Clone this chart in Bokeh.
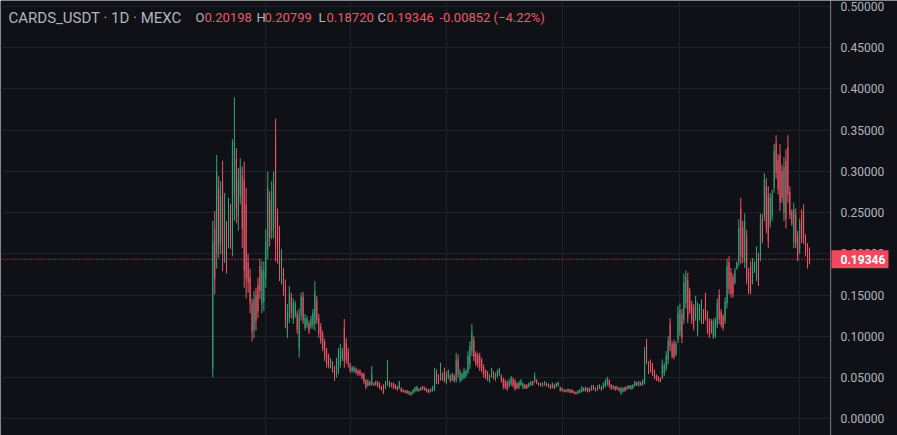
from bokeh.plotting import figure
from bokeh.layouts import row
from bokeh.models import ColumnDataSource, FixedTicker, Range1d, Span, Label
from bokeh.core.properties import value
from bokeh.embed import file_html
from bokeh.resources import INLINE

# ---------------- data ----------------
opens = [
    .060, .230, .200, .280, .215, .290, .200, .230, .215, .250,
    .215, .270, .315, .245, .270, .295, .290, .260, .190, .172,
    .140, .108, .150, .162, .185, .140, .142, .170, .205, .265,
    .228, .230,
    .340, .245, .225, .170, .178, .160, .105, .122, .148, .120,
    .125, .127, .085, .125, .148, .110, .113, .116, .111, .113,
    .115, .144, .122, .112, .103, .093, .082, .076, .063, .068,
    .061, .053, .058, .066, .073, .110, .092, .082,
    .066, .058, .058, .060, .058, .058, .055, .054, .046, .040,
    .045, .042, .041, .045, .045, .043, .039, .040, .037, .043,
    .045, .039, .043, .041, .039, .037, .037, .035, .034, .031,
    .033, .029, .031, .033, .034, .036, .035, .039, .038, .036,
    .035, .033, .034, .036, .056, .052, .048, .054, .058, .045,
    .050,
    .052, .047, .052, .047, .072, .046, .048, .050, .052, .057,
    .066, .082, .095, .079, .077, .076, .071, .063, .058, .056,
    .046, .052, .056, .048, .052, .054, .052, .048, .046, .044,
    .040, .042, .048, .046, .043, .038, .041, .038, .041, .041,
    .039, .041, .045, .045, .047, .043, .040, .043, .041, .043,
    .042, .041, .038, .041, .039, .040,
    .038, .034, .035, .035, .033, .035, .035, .033, .032, .031,
    .032, .033, .037, .034, .037, .037, .035, .040, .037, .035,
    .037, .039, .037, .040, .042, .047, .041, .037, .039, .039,
    .037, .031, .033, .038, .036, .040, .036, .037, .040, .044,
    .040, .044, .041, .044, .090, .068, .069, .065, .058, .053,
    .051, .049, .050, .055, .061, .072,
    .115, .090, .092, .078, .096, .106, .127, .120, .140, .168,
    .155, .139, .135, .122, .106, .121, .118, .130, .148, .127,
    .119, .118, .100, .101, .114, .150, .130, .124, .119, .140,
    .190, .178, .172, .165, .182, .190, .255, .232, .190, .220,
    .178, .185, .166, .179, .172, .195, .197, .243, .246, .282,
    .272, .237, .245, .280, .335, .314, .320, .300, .250, .312,
    .330, .275, .251, .214, .248, .222, .206, .248, .252, .220,
    .209, .20198,
]
highs = [
    .240, .252, .320, .294, .288, .313, .274, .240, .268, .261,
    .339, .390, .328, .304, .316, .306, .312, .280, .200, .182,
    .146, .155, .159, .171, .194, .191, .191, .230, .300, .276,
    .288, .300,
    .364, .255, .234, .206, .183, .169, .139, .161, .153, .146,
    .143, .131, .134, .153, .154, .127, .125, .119, .125, .133,
    .167, .149, .127, .116, .107, .097, .086, .079, .074, .070,
    .064, .074, .086, .091, .086, .121, .098, .086,
    .068, .064, .064, .062, .060, .060, .056, .056, .048, .048,
    .046, .064, .044, .046, .046, .044, .040, .042, .046, .071,
    .046, .044, .044, .042, .040, .046, .038, .036, .035, .035,
    .034, .033, .036, .039, .040, .037, .039, .040, .039, .037,
    .036, .037, .040, .062, .060, .054, .068, .056, .062, .058,
    .060,
    .054, .056, .054, .080, .078, .060, .056, .062, .060, .082,
    .094, .115, .100, .082, .080, .080, .074, .066, .060, .058,
    .054, .062, .058, .056, .060, .062, .054, .050, .048, .046,
    .048, .052, .050, .048, .044, .046, .048, .044, .042, .042,
    .044, .046, .046, .056, .048, .044, .044, .044, .046, .044,
    .043, .042, .044, .042, .044, .045,
    .039, .038, .036, .036, .037, .036, .036, .034, .033, .035,
    .036, .040, .038, .039, .038, .038, .041, .041, .038, .041,
    .042, .040, .044, .048, .051, .048, .042, .041, .040, .040,
    .038, .039, .038, .039, .040, .041, .041, .042, .046, .045,
    .046, .045, .048, .087, .097, .070, .072, .068, .060, .054,
    .052, .050, .072, .068, .082, .100,
    .122, .094, .096, .094, .137, .140, .133, .176, .180, .177,
    .159, .143, .139, .149, .141, .139, .145, .133, .153, .131,
    .122, .121, .121, .123, .146, .157, .133, .127, .147, .194,
    .197, .183, .176, .183, .191, .242, .268, .240, .249, .229,
    .183, .191, .195, .191, .209, .201, .249, .248, .298, .292,
    .282, .274, .278, .333, .344, .321, .333, .308, .317, .327,
    .344, .282, .254, .262, .255, .228, .243, .254, .260, .224,
    .213, .20799,
]
lows = [
    .050, .151, .182, .195, .200, .179, .189, .176, .207, .206,
    .197, .240, .237, .228, .260, .207, .159, .146, .153, .128,
    .094, .098, .107, .122, .145, .128, .131, .159, .194, .209,
    .218, .219,
    .191, .188, .167, .163, .149, .110, .098, .116, .122, .115,
    .122, .103, .074, .119, .115, .107, .110, .103, .109, .109,
    .107, .115, .098, .091, .082, .070, .062, .061, .061, .056,
    .046, .050, .054, .062, .070, .062, .067, .062,
    .056, .056, .056, .054, .052, .052, .048, .042, .036, .039,
    .040, .040, .040, .040, .038, .036, .034, .030, .036, .040,
    .038, .038, .036, .036, .034, .036, .032, .032, .031, .030,
    .029, .028, .030, .032, .033, .033, .034, .035, .034, .032,
    .031, .032, .033, .034, .042, .042, .046, .046, .044, .042,
    .048,
    .044, .046, .044, .044, .050, .044, .046, .048, .050, .054,
    .060, .076, .070, .064, .062, .058, .056, .050, .048, .046,
    .044, .050, .048, .046, .050, .052, .044, .036, .036, .034,
    .038, .040, .038, .034, .036, .036, .040, .036, .036, .036,
    .038, .040, .040, .044, .042, .040, .039, .039, .040, .039,
    .038, .036, .037, .036, .038, .039,
    .033, .033, .032, .032, .032, .031, .031, .030, .029, .030,
    .031, .032, .033, .033, .032, .032, .034, .035, .033, .034,
    .036, .034, .036, .038, .040, .038, .035, .036, .034, .035,
    .033, .029, .032, .033, .035, .036, .035, .036, .039, .040,
    .039, .040, .040, .042, .066, .054, .056, .052, .048, .046,
    .045, .044, .048, .052, .058, .066,
    .082, .073, .072, .076, .092, .100, .092, .115, .134, .116,
    .127, .115, .107, .119, .100, .119, .115, .115, .119, .103,
    .098, .103, .097, .098, .110, .115, .111, .107, .115, .134,
    .151, .147, .147, .163, .181, .185, .188, .189, .183, .163,
    .151, .151, .163, .177, .167, .161, .191, .213, .240, .225,
    .207, .232, .240, .274, .291, .272, .252, .262, .240, .231,
    .262, .242, .234, .207, .207, .191, .200, .213, .212, .197,
    .182, .18720,
]
closes = [
    .215, .170, .300, .210, .270, .200, .255, .190, .255, .215,
    .315, .335, .255, .290, .305, .230, .180, .170, .165, .140,
    .105, .145, .118, .130, .155, .180, .180, .215, .280, .220,
    .275, .285,
    .210, .200, .180, .195, .155, .120, .130, .152, .128, .140,
    .138, .108, .125, .148, .120, .122, .121, .106, .121, .128,
    .155, .120, .103, .095, .086, .075, .066, .064, .071, .059,
    .050, .070, .080, .085, .082, .070, .072, .066,
    .058, .062, .062, .056, .054, .054, .050, .045, .038, .046,
    .041, .055, .043, .041, .040, .038, .035, .032, .044, .062,
    .040, .043, .038, .037, .035, .044, .033, .033, .032, .034,
    .030, .032, .035, .038, .039, .034, .038, .036, .035, .033,
    .032, .036, .039, .055, .045, .044, .062, .048, .047, .055,
    .058,
    .046, .054, .046, .072, .055, .056, .054, .058, .058, .076,
    .088, .105, .075, .067, .065, .062, .059, .053, .050, .048,
    .052, .059, .050, .054, .058, .060, .046, .039, .038, .036,
    .046, .050, .040, .036, .037, .044, .046, .043, .037, .037,
    .043, .045, .041, .052, .043, .041, .043, .040, .045, .040,
    .039, .037, .043, .037, .043, .044,
    .034, .037, .033, .033, .036, .032, .032, .031, .030, .034,
    .035, .038, .034, .038, .033, .033, .040, .036, .034, .040,
    .041, .035, .043, .046, .049, .040, .036, .040, .035, .036,
    .034, .037, .037, .034, .039, .037, .040, .041, .045, .041,
    .045, .041, .047, .078, .070, .057, .059, .055, .050, .047,
    .046, .045, .066, .064, .077, .094,
    .088, .076, .075, .091, .128, .132, .098, .165, .172, .122,
    .131, .119, .111, .145, .135, .136, .140, .118, .123, .106,
    .101, .106, .118, .120, .140, .120, .114, .110, .142, .185,
    .157, .152, .151, .180, .189, .232, .198, .195, .240, .170,
    .155, .156, .190, .188, .203, .166, .240, .217, .290, .232,
    .215, .268, .272, .325, .298, .278, .262, .268, .305, .242,
    .272, .247, .237, .254, .213, .196, .237, .218, .218, .201,
    .202, .19346,
]
price_ticks = [0.0, 0.05, 0.10, 0.15, 0.20, 0.25, 0.30, 0.35, 0.40, 0.45, 0.50]
tick_labels = ["0.00000", "0.05000", "0.10000", "0.15000", "0.20000", "0.25000",
               "0.30000", "0.35000", "0.40000", "0.45000", "0.50000"]
grid_days = [27, 70, 119, 178, 238, 299]
symbol_text = "CARDS_USDT · 1D · MEXC"
ohlc_keys = ["O", "H", "L", "C"]
ohlc_vals = ["0.20198", "0.20799", "0.18720", "0.19346"]
change_text = "-0.00852 (−4.22%)"
last_price = 0.19346
last_label = "0.19346"

# ---------------- style ----------------
BG = "#0f1116"
GRID = "#1f222a"
UP = "#35a47a"
DOWN = "#ef5568"
BOX = "#f0495d"
TXT = "#b2b5be"
FONT = "Roboto"

n = len(closes)
colors = [UP if c >= o else DOWN for o, c in zip(opens, closes)]
src = ColumnDataSource(dict(
    x=list(range(n)), open=opens, high=highs, low=lows, close=closes,
    top=[max(o, c) for o, c in zip(opens, closes)],
    bottom=[min(o, c) for o, c in zip(opens, closes)],
    color=colors,
))

yr = Range1d(-0.02025, 0.50728)

# main chart area
p = figure(width=830, height=435, output_backend="svg", toolbar_location=None,
           x_range=Range1d(-108.16, 314.71), y_range=yr,
           x_axis_location=None, y_axis_location=None, min_border=0)
p.background_fill_color = BG
p.border_fill_color = BG
p.outline_line_color = None
p.xgrid.ticker = FixedTicker(ticks=grid_days)
p.ygrid.ticker = FixedTicker(ticks=price_ticks)
p.xgrid.grid_line_color = GRID
p.ygrid.grid_line_color = GRID

p.segment(x0="x", y0="low", x1="x", y1="high", line_color="color", line_width=1, source=src)
p.vbar(x="x", width=0.5, top="top", bottom="bottom", fill_color="color", line_color=None, source=src)

p.add_layout(Span(location=last_price, dimension="width", line_color=DOWN,
                  line_width=1, line_dash="1 2"))

TY = 418
p.add_layout(Label(x=8, y=TY, x_units="screen", y_units="screen", text=symbol_text,
                   text_color=TXT, text_font=FONT, text_font_size="15px", text_baseline="middle"))
key_x = [195, 256, 318, 377]
val_x = [204, 264, 326, 386]
for k, v, kx, vx in zip(ohlc_keys, ohlc_vals, key_x, val_x):
    p.add_layout(Label(x=kx, y=TY, x_units="screen", y_units="screen", text=k,
                       text_color=TXT, text_font=FONT, text_font_size="13px", text_baseline="middle"))
    p.add_layout(Label(x=vx, y=TY, x_units="screen", y_units="screen", text=v,
                       text_color=DOWN, text_font=FONT, text_font_size="13px", text_baseline="middle"))
p.add_layout(Label(x=439, y=TY, x_units="screen", y_units="screen", text=change_text,
                   text_color=DOWN, text_font=FONT, text_font_size="13px", text_baseline="middle"))

# price scale on the right
ps = figure(width=67, height=435, output_backend="svg", toolbar_location=None,
            x_range=Range1d(0, 67), y_range=yr,
            x_axis_location=None, y_axis_location=None, min_border=0)
ps.background_fill_color = BG
ps.border_fill_color = BG
ps.outline_line_color = None
ps.xgrid.visible = False
ps.ygrid.visible = False
ps.add_layout(Span(location=0.5, dimension="height", line_color="#2a2e39", line_width=1))
ps.text(x=10, y=price_ticks, text=tick_labels, text_color=TXT, text_font=value(FONT),
        text_font_size="12px", text_baseline="middle", text_align="left")
ps.rect(x=29, y=[last_price], width=58, height=18, height_units="screen",
        fill_color=BOX, line_color=None)
ps.text(x=10, y=[last_price], text=[last_label], text_color="white", text_font=value(FONT),
        text_font_size="12px", text_font_style="bold", text_baseline="middle", text_align="left")

layout = row(p, ps, spacing=0)
open("out.html", "w").write(file_html(layout, INLINE))
